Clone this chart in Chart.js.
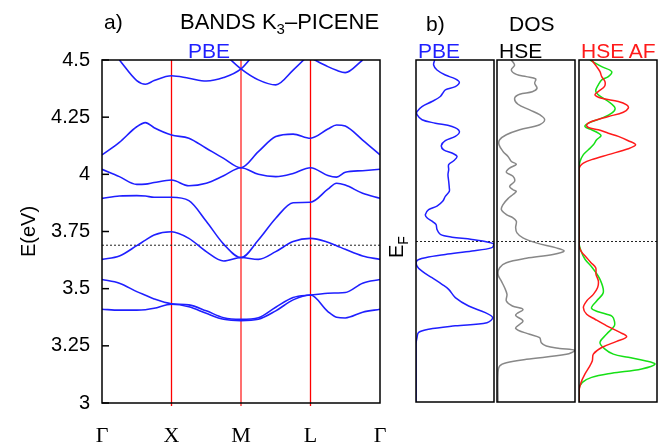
<!DOCTYPE html>
<html>
<head>
<meta charset="utf-8">
<script src="https://cdn.jsdelivr.net/npm/chart.js@4.4.1/dist/chart.umd.min.js"></script>
<style>
  body { margin: 0; width: 667px; height: 447px; position: relative; background: #fff; overflow: hidden;
         font-family: 'Liberation Sans', Arial, sans-serif; }
  canvas { position: absolute; }
  .t { position: absolute; line-height: 1; white-space: nowrap; font-size: 21px; color: #000; }
  sub { font-size: 15px; vertical-align: -5px; line-height: 0; }
</style>
</head>
<body>
<canvas id="bands" width="400" height="447" style="left:0;top:0;width:400px;height:447px"></canvas>
<canvas id="dosPbe" width="82" height="346" style="left:414px;top:58px;width:82px;height:346px"></canvas>
<canvas id="dosHse" width="82" height="346" style="left:495px;top:58px;width:82px;height:346px"></canvas>
<canvas id="dosAf" width="82" height="346" style="left:577px;top:58px;width:82px;height:346px"></canvas>

<div class="t" style="left:104px;top:11px">a)</div>
<div class="t" style="left:180px;top:11px;font-size:22px">BANDS K<sub>3</sub>–PICENE</div>
<div class="t" style="left:188px;top:40px;color:#1f1fff">PBE</div>
<div class="t" style="left:426px;top:13px">b)</div>
<div class="t" style="left:509px;top:13px">DOS</div>
<div class="t" style="left:418px;top:40px;color:#1f1fff">PBE</div>
<div class="t" style="left:499px;top:40px">HSE</div>
<div class="t" style="left:581px;top:40px;color:#ff1a1a">HSE AF</div>
<div class="t" style="left:383px;top:235px;font-size:20px;transform:rotate(-90deg);transform-origin:13px 10px">E<sub style="font-size:14px">F</sub></div>

<script>
// k path: Γ=0, X=1, M=2, L=3, Γ=4
const kLabels = ['Γ', 'X', 'M', 'L', 'Γ'];
const eTicks = ['3', '3.25', '3.5', '3.75', '4', '4.25', '4.5'];
const kpath = [0, 0.25, 0.5, 0.625, 0.75, 1, 1.25, 1.5, 1.75, 2, 2.25, 2.5, 2.75, 3, 3.25, 3.375, 3.5, 3.75, 4];
const kLines = [1, 2, 3];

// band energies (eV) read at each kpath point
const band1 = [3.410, 3.406, 3.406, 3.408, 3.414, 3.432, 3.421, 3.392, 3.366, 3.360, 3.366, 3.403, 3.451, 3.472, 3.400, 3.375, 3.372, 3.397, 3.410];
const band2 = [3.540, 3.524, 3.487, 3.471, 3.455, 3.434, 3.429, 3.403, 3.373, 3.366, 3.373, 3.419, 3.461, 3.472, 3.480, 3.481, 3.483, 3.524, 3.540];
const band3 = [3.628, 3.643, 3.688, 3.712, 3.735, 3.749, 3.720, 3.662, 3.621, 3.636, 3.628, 3.662, 3.706, 3.720, 3.703, 3.688, 3.672, 3.643, 3.628];
const band4 = [3.895, 3.905, 3.907, 3.905, 3.900, 3.900, 3.885, 3.795, 3.695, 3.636, 3.713, 3.808, 3.876, 3.878, 3.935, 3.961, 3.953, 3.917, 3.895];
const band5 = [4.022, 3.990, 3.956, 3.957, 3.964, 3.975, 3.950, 3.961, 3.994, 4.029, 4.000, 3.990, 4.004, 4.029, 3.995, 3.988, 4.009, 4.016, 4.022];
const band6 = [4.085, 4.140, 4.208, 4.226, 4.204, 4.172, 4.158, 4.114, 4.070, 4.029, 4.099, 4.165, 4.176, 4.158, 4.198, 4.216, 4.211, 4.150, 4.085];
const band7 = [null, 4.500, 4.410, 4.394, 4.410, 4.431, 4.420, 4.408, 4.423, 4.461, 4.550, null, null, null, null, null, null, null, null];
const band8 = [null, null, null, null, null, null, null, null, 4.530, 4.461, 4.413, 4.391, 4.456, 4.530, null, null, null, null, null];
const band9 = [null, null, null, null, null, null, null, null, null, null, null, null, null, 4.510, 4.471, 4.455, 4.445, 4.500, null];
const EF_BANDS = 3.69;
const EF_DOS = 3.704;

// DOS: energies (eV) and DOS in arbitrary units (0-100 = panel width)
const pbeE = [4.50, 4.478, 4.456, 4.434, 4.417, 4.402, 4.383, 4.369, 4.354, 4.340, 4.318, 4.296, 4.274, 4.260, 4.238, 4.223, 4.208, 4.187, 4.165, 4.146, 4.125, 4.106, 4.092, 4.077, 4.058, 4.041, 4.019, 3.997, 3.968, 3.939, 3.924, 3.902, 3.880, 3.859, 3.844, 3.822, 3.808, 3.793, 3.779, 3.757, 3.735, 3.723, 3.713, 3.694, 3.677, 3.662, 3.647, 3.633, 3.620, 3.596, 3.574, 3.545, 3.516, 3.494, 3.458, 3.421, 3.392, 3.370, 3.348, 3.334, 3.319, 3.305, 3.283, 3.254, 3.00];
const pbeD = [23.9, 22.6, 26.9, 37.6, 50.4, 55.6, 50.4, 37.6, 34.2, 31.2, 20.5, 7.7, 1.3, 1.3, 7.7, 24.8, 46.2, 55.6, 50.4, 37.6, 32.5, 35.5, 46.2, 52.6, 48.3, 41.9, 41.9, 41.0, 41.9, 42.7, 42.7, 37.6, 34.2, 26.9, 16.2, 12.0, 14.1, 20.5, 25.6, 26.9, 31.2, 46.2, 71.8, 99.6, 97.4, 71.8, 37.6, 12.0, 1.3, 1.3, 7.7, 20.5, 33.3, 41.9, 50.4, 67.5, 88.9, 98.3, 91.0, 50.4, 16.2, 3.4, 1.3, 0, 0];

const hseE = [4.50, 4.478, 4.456, 4.437, 4.427, 4.417, 4.398, 4.376, 4.361, 4.350, 4.332, 4.306, 4.281, 4.260, 4.238, 4.216, 4.194, 4.172, 4.150, 4.128, 4.099, 4.077, 4.055, 4.043, 4.026, 4.008, 3.990, 3.968, 3.946, 3.931, 3.924, 3.910, 3.892, 3.866, 3.844, 3.822, 3.808, 3.793, 3.764, 3.742, 3.720, 3.698, 3.676, 3.662, 3.647, 3.630, 3.611, 3.589, 3.560, 3.530, 3.501, 3.472, 3.443, 3.421, 3.406, 3.381, 3.355, 3.323, 3.297, 3.282, 3.260, 3.246, 3.235, 3.226, 3.209, 3.187, 3.172, 3.158, 3.129, 3.00];
const hseD = [18.4, 22.6, 18.4, 24.8, 37.6, 49.6, 48.3, 51.3, 45.3, 29.1, 22.6, 26.9, 41.9, 54.7, 61.1, 54.7, 29.1, 12.0, 3.4, 2.6, 7.7, 14.1, 18.4, 24.8, 16.2, 12.0, 20.5, 22.6, 16.2, 20.5, 24.8, 20.5, 14.1, 7.7, 5.6, 12.0, 20.5, 24.8, 23.9, 25.6, 33.3, 50.4, 76.1, 85.9, 71.8, 37.6, 12.0, 3.4, 1.3, 5.6, 9.8, 12.8, 12.0, 19.7, 33.3, 23.9, 33.3, 23.9, 41.9, 54.7, 56.8, 63.2, 80.3, 99.6, 88.9, 37.6, 12.0, 3.4, 1.3, 1.3];

const afRedE = [4.50, 4.471, 4.449, 4.427, 4.405, 4.383, 4.362, 4.347, 4.332, 4.318, 4.303, 4.289, 4.271, 4.252, 4.230, 4.216, 4.204, 4.194, 4.179, 4.165, 4.146, 4.128, 4.111, 4.085, 4.063, 4.048, 4.034, 4.019, 3.691, 3.662, 3.633, 3.611, 3.589, 3.560, 3.531, 3.502, 3.472, 3.443, 3.414, 3.385, 3.363, 3.334, 3.305, 3.286, 3.266, 3.239, 3.210, 3.181, 3.152, 3.123, 3.086, 3.050, 3.00];
const afRedD = [16.2, 22.6, 26.9, 29.1, 33.3, 32.5, 24.8, 20.5, 29.1, 50.4, 61.1, 63.2, 56.8, 37.6, 16.2, 9.8, 12.0, 24.8, 37.6, 50.4, 63.2, 72.6, 63.2, 37.6, 16.2, 5.6, 1.3, 0, 0, 2.6, 9.8, 15.4, 21.4, 21.8, 24.8, 23.9, 18.4, 9.8, 5.6, 9.8, 20.5, 35.5, 52.6, 61.1, 48.3, 29.1, 18.4, 17.1, 12.8, 7.7, 2.6, 0, 0];

const afGreenE = [4.50, 4.471, 4.449, 4.427, 4.413, 4.391, 4.364, 4.347, 4.318, 4.289, 4.267, 4.245, 4.223, 4.208, 4.194, 4.179, 4.168, 4.150, 4.128, 4.106, 4.085, 4.055, 4.026, 3.698, 3.662, 3.626, 3.589, 3.538, 3.481, 3.443, 3.410, 3.385, 3.375, 3.356, 3.334, 3.298, 3.261, 3.232, 3.210, 3.196, 3.181, 3.166, 3.145, 3.126, 3.108, 3.086, 3.057, 3.00];
const afGreenD = [14.1, 29.1, 41.9, 37.6, 29.1, 24.8, 21.4, 24.8, 37.6, 46.2, 41.9, 29.1, 12.0, 7.7, 16.2, 24.8, 28.2, 22.6, 18.4, 12.0, 5.6, 1.3, 0, 0, 2.6, 7.7, 17.1, 26.9, 31.2, 22.6, 16.2, 35.5, 42.7, 45.3, 45.3, 35.5, 26.9, 33.3, 44.0, 63.2, 84.6, 97.4, 80.3, 41.9, 16.2, 4.3, 0, 0];

Chart.defaults.font.family = "'Liberation Sans', Arial, sans-serif";
Chart.defaults.color = '#000';

// red lines at the high-symmetry points, drawn under the bands
const symLines = {
  id: 'symLines',
  beforeDatasetsDraw(chart, args, opts) {
    if (!opts.on) return;
    const ctx = chart.ctx, a = chart.chartArea, xs = chart.scales.x;
    ctx.save();
    kLines.forEach(k => {
      const px = xs.getPixelForValue(k);
      ctx.strokeStyle = k === 2 ? '#ff7070' : '#ff0000';
      ctx.lineWidth = k === 2 ? 2 : 1.3;
      ctx.beginPath();
      ctx.moveTo(px, a.top);
      ctx.lineTo(px, a.bottom + 3);
      ctx.stroke();
    });
    ctx.restore();
  }
};

// black box round the plot area, plus short inner ticks on the left
const frame = {
  id: 'frame',
  afterDatasetsDraw(chart, args, opts) {
    const ctx = chart.ctx, a = chart.chartArea;
    ctx.save();
    ctx.strokeStyle = '#000';
    ctx.lineWidth = 1.5;
    ctx.strokeRect(a.left, a.top, a.right - a.left, a.bottom - a.top);
    if (opts.ticks) {
      const ys = chart.scales.y;
      ys.ticks.forEach(t => {
        const py = ys.getPixelForValue(t.value);
        ctx.beginPath();
        ctx.moveTo(a.left, py);
        ctx.lineTo(a.left + 7, py);
        ctx.stroke();
      });
    }
    ctx.restore();
  }
};

const blue = '#1f1fff';
const bands = [band1, band2, band3, band4, band5, band6, band7, band8, band9];

const bandSets = bands.map(b => ({
  data: kpath.map((k, i) => ({x: k, y: b[i]})),
  borderColor: blue,
  borderWidth: 1.6,
  pointRadius: 0,
  cubicInterpolationMode: 'monotone',
  spanGaps: false
}));
bandSets.push({
  data: [{x: 0, y: EF_BANDS}, {x: 4, y: EF_BANDS}],
  borderColor: '#222',
  borderWidth: 1,
  borderDash: [2, 2],
  pointRadius: 0
});

new Chart(document.getElementById('bands'), {
  type: 'line',
  data: {datasets: bandSets},
  options: {
    responsive: false,
    animation: false,
    events: [],
    layout: {padding: {top: 60, right: 20, left: 0, bottom: 0}},
    plugins: {legend: {display: false}, tooltip: {enabled: false}, frame: {ticks: true}, symLines: {on: true}},
    scales: {
      x: {
        type: 'linear', min: 0, max: 4,
        ticks: {stepSize: 1, callback: v => kLabels[v], font: {family: "'Liberation Serif', serif", size: 22}, padding: 20, maxRotation: 0},
        grid: {display: false, drawTicks: false},
        border: {display: false},
        afterFit: s => { s.height = 44; s.paddingLeft = 0; s.paddingRight = 0; }
      },
      y: {
        type: 'linear', min: 3, max: 4.5,
        ticks: {stepSize: 0.25, callback: (v, i) => eTicks[i], font: {size: 20}, padding: 12},
        grid: {display: false, drawTicks: false},
        border: {display: false},
        title: {display: true, text: 'E(eV)', font: {size: 20}, padding: {top: 17}},
        afterFit: s => { s.width = 102; s.paddingTop = 0; s.paddingBottom = 0; }
      }
    }
  },
  plugins: [symLines, frame]
});

function makeDos(id, series) {
  const sets = series.map(s => ({
    data: s.e.map((e, i) => ({x: s.d[i], y: e})),
    borderColor: s.color,
    borderWidth: 1.5,
    pointRadius: 0,
    tension: 0.35
  }));
  sets.push({
    data: [{x: 0, y: EF_DOS}, {x: 100, y: EF_DOS}],
    borderColor: '#222',
    borderWidth: 1,
    borderDash: [2, 2],
    pointRadius: 0
  });
  new Chart(document.getElementById(id), {
    type: 'line',
    data: {datasets: sets},
    options: {
      responsive: false,
      animation: false,
      events: [],
      layout: {padding: 2},
      plugins: {legend: {display: false}, tooltip: {enabled: false}, frame: {ticks: false}},
      scales: {
        x: {type: 'linear', min: 0, max: 100, display: false},
        y: {type: 'linear', min: 3, max: 4.5, display: false}
      }
    },
    plugins: [frame]
  });
}

makeDos('dosPbe', [{e: pbeE, d: pbeD, color: blue}]);
makeDos('dosHse', [{e: hseE, d: hseD, color: '#888888'}]);
makeDos('dosAf', [{e: afRedE, d: afRedD, color: '#ff1a1a'}, {e: afGreenE, d: afGreenD, color: '#16e016'}]);
</script>
</body>
</html>
